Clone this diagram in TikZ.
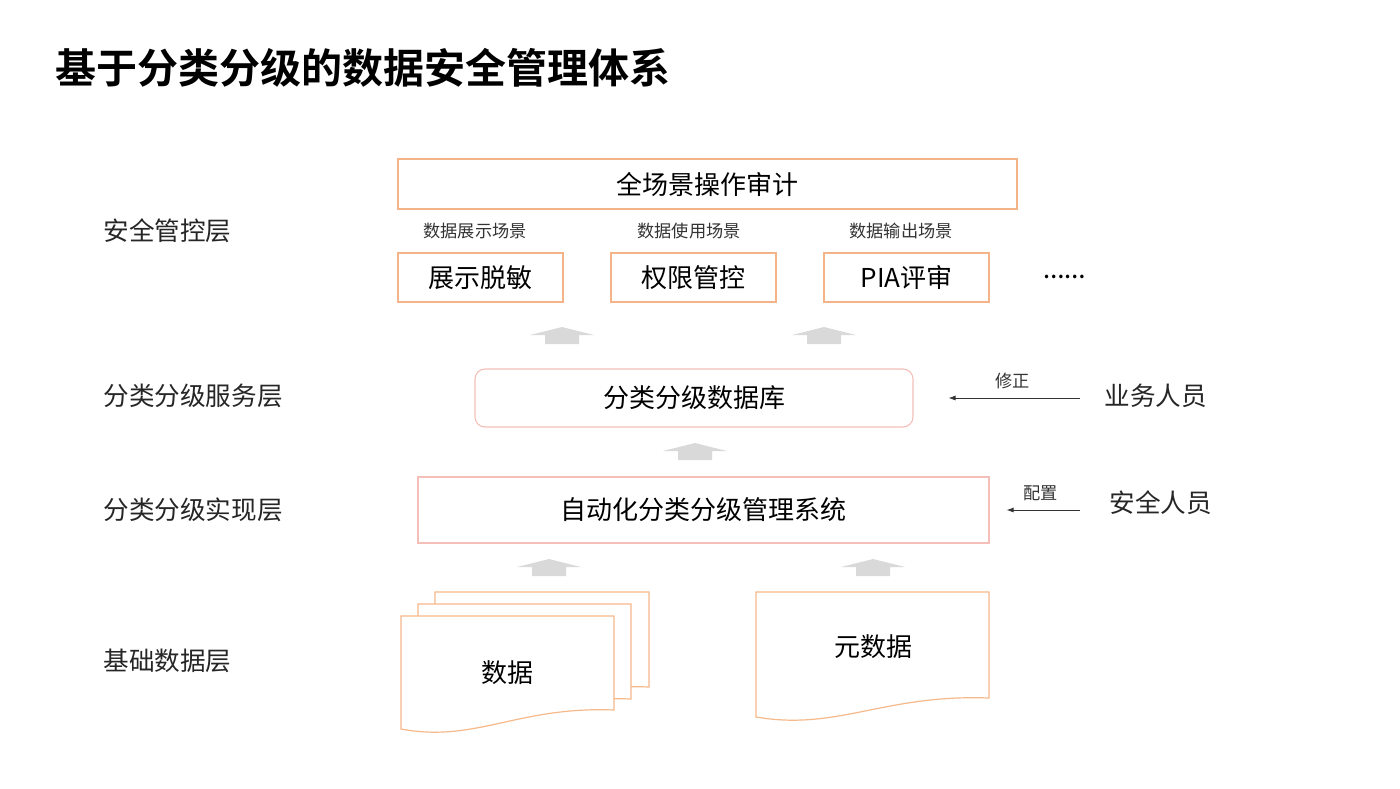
\documentclass[tikz,border=0pt]{standalone}
\usepackage{fontspec}
\setmainfont{Noto Sans CJK SC}[BoldFont={Noto Sans CJK SC Bold}]
\usepackage{xcolor}
\usetikzlibrary{arrows.meta,calc}

\definecolor{lineorange}{HTML}{F4B488}
\definecolor{linepink}{HTML}{F4BFB9}
\definecolor{docorange}{HTML}{F6B98A}
\definecolor{arrowgray}{HTML}{D9D9D9}

% document shape: #1 left x, #2 right x, #3 top y, #4 right bottom y
\newcommand{\docpath}[4]{%
	\filldraw[docline] (#1,#3) -- (#2,#3) -- (#2,#4)
		.. controls ({#1+0.55*(#2-#1)},{#4-4}) and ({#1+0.35*(#2-#1)},{#4+33}) .. (#1,{#4+19}) -- cycle;%
}

\begin{document}
\begin{tikzpicture}[x=0.5pt, y=-0.5pt,
	bigtxt/.style={font=\fontsize{13pt}{15pt}\selectfont},
	smalltxt/.style={font=\fontsize{8.6pt}{10pt}\selectfont, text=black!80},
	layertxt/.style={font=\fontsize{12.8pt}{15pt}\selectfont, text=black!85, anchor=west},
	orangebox/.style={bigtxt, draw=lineorange, line width=0.55pt, inner sep=0pt},
	pinkbox/.style={bigtxt, draw=linepink, line width=0.55pt, inner sep=0pt},
	docline/.style={draw=docorange, fill=white, line width=0.6pt},
	blockarrow/.style={fill=arrowgray},
	flowarrow/.style={-{Latex[length=3.5pt,width=2.5pt]}, line width=0.4pt, black!80}]

		% === page ===
		\fill[white] (0,0) rectangle (1400,788);
		\useasboundingbox (0,0) rectangle (1400,788);

		% === title ===
		\node[anchor=west, font=\fontsize{20.5pt}{24pt}\selectfont\bfseries, inner sep=0pt] (title) at (55,68) {基于分类分级的数据安全管理体系};

		% === layer names ===
		\node[layertxt, inner sep=0pt] (lblCtrl)    at (103,231) {安全管控层};
		\node[layertxt, inner sep=0pt] (lblService) at (103,396) {分类分级服务层};
		\node[layertxt, inner sep=0pt] (lblImpl)    at (103,510) {分类分级实现层};
		\node[layertxt, inner sep=0pt] (lblBase)    at (103,661) {基础数据层};

		% === security control layer ===
		\node[orangebox, minimum width=309.5pt, minimum height=25pt] (audit) at (707.5,184) {全场景操作审计};
		\node[smalltxt] (scnShow) at (475,231) {数据展示场景};
		\node[smalltxt] (scnUse)  at (689,231) {数据使用场景};
		\node[smalltxt] (scnOut)  at (901,231) {数据输出场景};
		\node[orangebox, minimum width=82.5pt, minimum height=24.5pt] (mask) at (480.5,277.5) {展示脱敏};
		\node[orangebox, minimum width=82.5pt, minimum height=24.5pt] (perm) at (693.5,277.5) {权限管控};
		\node[orangebox, minimum width=82.5pt, minimum height=24.5pt] (pia)  at (906.5,277.5) {PIA评审};
		\node[font=\fontsize{9.5pt}{10pt}\selectfont\bfseries] (dots) at (1064,277) {……};

		% === service and implementation layers ===
		\node[pinkbox, rounded corners=5pt, minimum width=219pt, minimum height=29pt] (db) at (694,398) {分类分级数据库};
		\node[pinkbox, minimum width=285.5pt, minimum height=33pt] (sys) at (703.5,510) {自动化分类分级管理系统};

		% === people ===
		\node[layertxt, inner sep=0pt] (biz) at (1104,396) {业务人员};
		\node[layertxt, inner sep=0pt] (sec) at (1109,503) {安全人员};
		\draw[flowarrow, shorten <=12pt, shorten >=17.5pt] (biz.west |- db.east) -- (db.east)
			node[smalltxt, pos=0.48, above=1pt] (fix) {修正};
		\draw[flowarrow, shorten <=14.5pt, shorten >=8.5pt] (sec.west |- sys.east) -- (sys.east)
			node[smalltxt, pos=0.575, above=1pt] (conf) {配置};

		% === base data layer ===
		\docpath{435}{649}{592}{687}
		\docpath{418}{631}{604}{699}
		\docpath{401}{614}{616}{710}
		\docpath{756}{989}{592}{698}
		\node[bigtxt] (docData) at (507,673) {数据};
		\node[bigtxt] (docMeta) at (873,647) {元数据};

		% === gray block arrows between layers ===
		\foreach \ax/\ay in {562/327, 824/327, 695/443, 549/559, 873/559} {
			\fill[blockarrow] ({\ax-32},{\ay+8}) -- (\ax,\ay) -- ({\ax+32},{\ay+8}) -- ({\ax+17},{\ay+8})
				-- ({\ax+17},{\ay+17}) -- ({\ax-17},{\ay+17}) -- ({\ax-17},{\ay+8}) -- cycle;
		}
	\end{tikzpicture}
\end{document}
